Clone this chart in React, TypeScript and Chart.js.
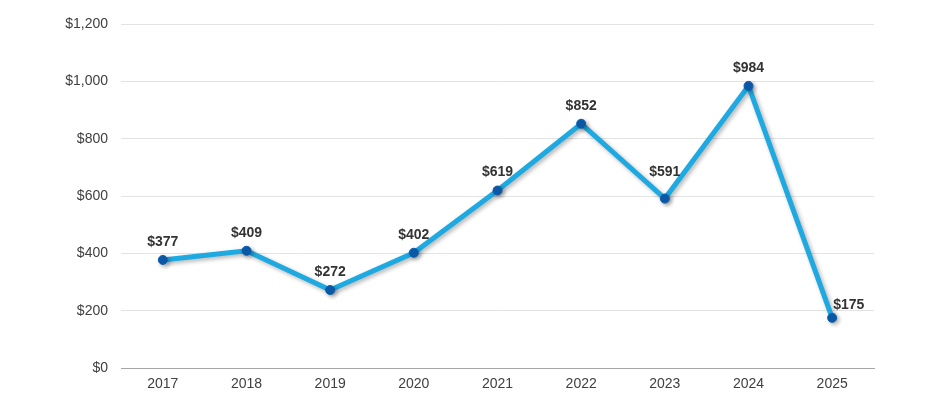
import React, { useEffect, useRef } from "react";
import { Chart, registerables } from "chart.js";

Chart.register(...registerables);

const years = ["2017", "2018", "2019", "2020", "2021", "2022", "2023", "2024", "2025"];
const values = [377, 409, 272, 402, 619, 852, 591, 984, 175];

const fmt = (v: number) => "$" + v.toLocaleString("en-US");

const shadowPlugin = {
  id: "lineShadow",
  beforeDatasetDraw(chart: any) {
    const ctx = chart.ctx;
    ctx.save();
    ctx.shadowColor = "rgba(0,0,0,0.3)";
    ctx.shadowBlur = 4;
    ctx.shadowOffsetX = 2;
    ctx.shadowOffsetY = 2;
  },
  afterDatasetDraw(chart: any) {
    chart.ctx.restore();
  },
};

const labelPlugin = {
  id: "valueLabels",
  afterDatasetsDraw(chart: any) {
    const ctx = chart.ctx;
    const meta = chart.getDatasetMeta(0);
    ctx.save();
    ctx.font = "bold 14px 'Liberation Sans', Arial, sans-serif";
    ctx.fillStyle = "#333333";
    ctx.textBaseline = "middle";
    meta.data.forEach((pt: any, i: number) => {
      const text = fmt(values[i]);
      if (i === values.length - 1) {
        ctx.textAlign = "left";
        ctx.fillText(text, pt.x + 1, pt.y - 13);
      } else {
        const prev = i > 0 ? values[i - 1] : values[i];
        const next = values[i + 1];
        const steepValley = prev - values[i] > 200 && next - values[i] > 200;
        ctx.textAlign = "center";
        ctx.fillText(text, pt.x, pt.y - (steepValley ? 26 : 18));
      }
    });
    ctx.restore();
  },
};

export default function App() {
  const ref = useRef<HTMLCanvasElement>(null);
  useEffect(() => {
    if (!ref.current) return;
    const chart = new Chart(ref.current, {
      type: "line",
      data: {
        labels: years,
        datasets: [
          {
            data: values,
            borderColor: "#1EA9E1",
            borderWidth: 5,
            pointBackgroundColor: "#0B5CAD",
            pointBorderColor: "#0B5CAD",
            pointRadius: 4.5,
            pointBorderWidth: 1,
            tension: 0,
            fill: false,
          },
        ],
      },
      options: {
        animation: false,
        responsive: false,
        maintainAspectRatio: false,
        layout: { padding: { top: 24, right: 64, bottom: 0, left: 0 } },
        plugins: { legend: { display: false }, tooltip: { enabled: false } },
        scales: {
          x: {
            offset: true,
            grid: { display: false, drawTicks: false },
            border: { display: true, color: "#a6a6a6", width: 1 },
            ticks: {
              color: "#404040",
              font: { family: "'Liberation Sans', Arial, sans-serif", size: 14 },
              padding: 8,
            },
            afterFit(scale: any) {
              scale.height = 42;
            },
          },
          y: {
            min: 0,
            max: 1200,
            grid: { color: "#e3e3e3", drawTicks: false, lineWidth: 1 },
            border: { display: false },
            ticks: {
              stepSize: 200,
              color: "#404040",
              padding: 13,
              font: { family: "'Liberation Sans', Arial, sans-serif", size: 14 },
              callback: (v: any) => fmt(Number(v)),
            },
            afterFit(scale: any) {
              scale.width = 121;
            },
          },
        },
      },
      plugins: [shadowPlugin, labelPlugin],
    });
    return () => chart.destroy();
  }, []);
  return (
    <div style={{ position: "fixed", left: 0, top: 0, width: 938, height: 410, background: "#fff" }}>
      <canvas ref={ref} width={938} height={410} style={{ width: 938, height: 410 }} />
    </div>
  );
}
